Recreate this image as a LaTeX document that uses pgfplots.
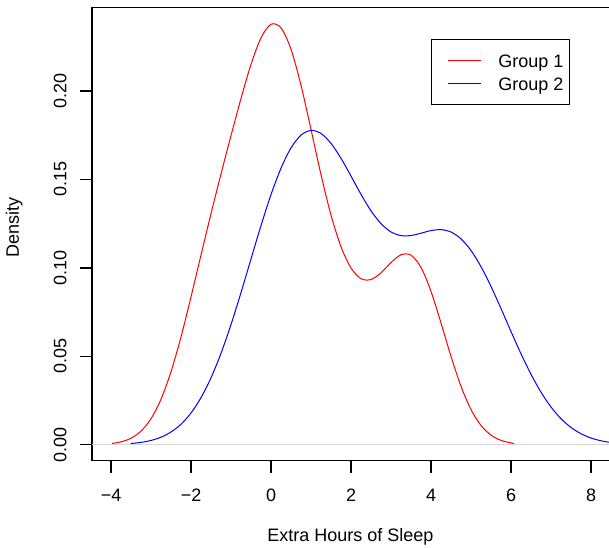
\documentclass[border=0pt]{standalone}
\usepackage{fontspec}
\setmainfont{Liberation Sans}
\usepackage{pgfplots}
\pgfplotsset{compat=1.18}
\begin{document}
\begin{tikzpicture}
\useasboundingbox (-69pt,-64.8pt) rectangle (387.75pt,345.45pt);
\clip (-69pt,-64.8pt) rectangle (387.75pt,345.45pt);
\begin{axis}[
  at={(0pt,0pt)}, anchor=south west,
  x=30pt, y=1326.375pt,
  xmin=-4.4755, xmax=9.4255, ymin=-0.009, ymax=0.2472,
  axis line style={line width=1.1pt, black},
  tick style={line width=1.1pt, black},
  tick align=outside, major tick length=9pt,
  xtick pos=bottom, ytick pos=left,
  xtick={-4,-2,0,2,4,6,8},
  xticklabels={−4,−2,0,2,4,6,8},
  ytick={0,0.05,0.10,0.15,0.20},
  yticklabels={0.00,0.05,0.10,0.15,0.20},
  tick label style={font=\fontsize{13.5}{16}\selectfont},
  xticklabel style={anchor=center, yshift=-17pt},
  yticklabel style={anchor=center, xshift=-14.8pt, rotate=90},
  label style={font=\fontsize{13.5}{16}\selectfont},
  xlabel={Extra Hours of Sleep},
  xlabel style={at={(axis description cs:0.4646,-0.168)}, anchor=center},
  ylabel={Density},
  ylabel style={at={(axis description cs:-0.1399,0.5155)}, anchor=center},
  legend style={at={(axis cs:4.0,0.2292)}, anchor=north west, draw=black, line width=0.75pt, fill=white,
    font=\fontsize{13.5}{16}\selectfont, inner xsep=5pt, inner ysep=6.8pt, row sep=0pt, column sep=12.5pt,
    nodes={inner sep=0pt, text height=13.6pt, text depth=3.9pt, anchor=west}},
  legend cell align=left,
  legend image code/.code={\path (0pt,0pt) -- (0pt,0pt); \draw[#1] (6.8pt,0pt) -- (31.8pt,0pt);},
]
\addplot[red, line width=0.75pt, smooth] coordinates {
(-3.98,0.000677) (-3.75,0.001585) (-3.5,0.003657) (-3.25,0.007676) (-3.0,0.014698)
(-2.75,0.025722) (-2.5,0.041268) (-2.25,0.060986) (-2.0,0.083585) (-1.75,0.107302)
(-1.5,0.130667) (-1.25,0.153111) (-1.0,0.174808) (-0.75,0.195817) (-0.5,0.215068)
(-0.25,0.230088) (0.0,0.237749) (0.25,0.235702) (0.5,0.223550) (0.75,0.203193)
(1.0,0.178196) (1.25,0.152600) (1.5,0.129794) (1.75,0.111916) (2.0,0.099895)
(2.25,0.093867) (2.5,0.093375) (2.75,0.097189) (3.0,0.102964) (3.25,0.107404)
(3.5,0.107168) (3.75,0.100200) (4.0,0.086646) (4.25,0.068762) (4.5,0.049859)
(4.75,0.032951) (5.0,0.019819) (5.25,0.010840) (5.5,0.005389) (5.75,0.002434)
(6.0,0.000999) (6.08,0.000736)
};
\addlegendentry{Group 1}
\addplot[forget plot, draw={rgb,255:red,215;green,215;blue,215}, line width=1.1pt] coordinates {(-4.4755,0) (9.4255,0)};
\addplot[blue, line width=0.75pt, smooth] coordinates {
(-3.51,0.000656) (-3.25,0.001303) (-3.0,0.002406) (-2.75,0.004249) (-2.5,0.007176)
(-2.25,0.011592) (-2.0,0.017935) (-1.75,0.026595) (-1.5,0.037837) (-1.25,0.051708)
(-1.0,0.067963) (-0.75,0.086036) (-0.5,0.105052) (-0.25,0.123916) (0.0,0.141423)
(0.25,0.156397) (0.5,0.167844) (0.75,0.175061) (1.0,0.177730) (1.25,0.175981)
(1.5,0.170388) (1.75,0.161922) (2.0,0.151846) (2.25,0.141517) (2.5,0.132228)
(2.75,0.124971) (3.0,0.120292) (3.25,0.118220) (3.5,0.118274) (3.75,0.119585)
(4.0,0.121062) (4.25,0.121594) (4.5,0.120241) (4.75,0.116383) (5.0,0.109791)
(5.25,0.100642) (5.5,0.089443) (5.75,0.076940) (6.0,0.063975) (6.25,0.051356)
(6.5,0.039758) (6.75,0.029651) (7.0,0.021281) (7.25,0.014684) (7.5,0.009731)
(7.75,0.006188) (8.0,0.003773) (8.25,0.002204) (8.5,0.001232) (8.91,0.000431)
};
\addlegendentry{Group 2}
\end{axis}
\end{tikzpicture}
\end{document}
